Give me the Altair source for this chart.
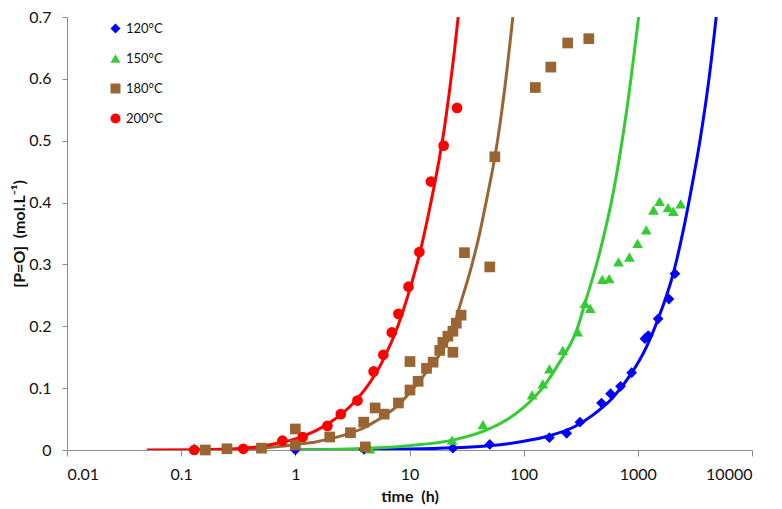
import altair as alt
import pandas as pd

series_names = ["120°C", "150°C", "180°C", "200°C"]
colors = ["#0000ff", "#33cc33", "#996633", "#ff0000"]
shapes = ["diamond", "triangle-up", "square", "circle"]

# measured points (time in h, [P=O] in mol/L)
t120 = [1.0, 4.0, 24, 50.5, 168, 238, 311, 480, 577, 705, 883, 1153, 1233, 1506, 1875, 2114]
y120 = [0.0, 0.001, 0.003, 0.009, 0.020, 0.027, 0.045, 0.076, 0.091, 0.103, 0.125, 0.180, 0.185, 0.212, 0.244, 0.285]

t150 = [0.13, 4.5, 23.6, 44, 118.6, 147, 168, 220, 297, 344, 383, 488, 561, 677, 844, 995, 1185, 1371, 1550, 1838, 2045, 2372]
y150 = [0.004, 0.002, 0.016, 0.041, 0.089, 0.107, 0.131, 0.161, 0.191, 0.237, 0.229, 0.276, 0.277, 0.304, 0.312, 0.334, 0.356, 0.388, 0.402, 0.392, 0.386, 0.398]

t180 = [0.163, 0.252, 0.505, 1.0, 1.0, 2.0, 3.04, 3.97, 4.1, 5.0, 6.0, 8.0, 10.1, 10.1, 11.9, 14.1, 16.1, 18.4, 19.6, 21.7, 24.0, 24.0, 25.7, 28.3, 30.3, 50.5, 55.9, 126.5, 173, 243, 372]
y180 = [0.000, 0.002, 0.003, 0.034, 0.008, 0.021, 0.028, 0.045, 0.005, 0.068, 0.058, 0.076, 0.097, 0.143, 0.111, 0.132, 0.142, 0.161, 0.174, 0.184, 0.192, 0.158, 0.205, 0.218, 0.319, 0.296, 0.474, 0.586, 0.619, 0.658, 0.665]

t200 = [0.13, 0.35, 0.77, 1.16, 1.91, 2.5, 3.5, 4.85, 5.9, 7.0, 8.0, 9.8, 12.2, 15.4, 19.9, 26.1]
y200 = [0.000, 0.002, 0.015, 0.021, 0.039, 0.058, 0.080, 0.127, 0.154, 0.190, 0.220, 0.264, 0.320, 0.434, 0.492, 0.553]

# model curves
ct120 = [0.9, 5, 10, 24, 50, 100, 168, 281, 400, 600, 873, 1200, 1486, 2075, 2500, 2930, 3500, 4200, 4860]
cy120 = [0.0, 0.001, 0.0015, 0.0035, 0.007, 0.014, 0.023, 0.038, 0.056, 0.084, 0.123, 0.168, 0.209, 0.290, 0.355, 0.420, 0.500, 0.600, 0.700]

ct150 = [1, 4.5, 10, 24, 44, 70, 100, 150, 200, 297, 344, 450, 625, 800, 1016]
cy150 = [0.0, 0.003, 0.007, 0.016, 0.030, 0.048, 0.069, 0.103, 0.138, 0.198, 0.237, 0.310, 0.427, 0.550, 0.700]

ct180 = [0.15, 0.3, 0.5, 0.75, 1, 1.5, 2, 3, 4, 5, 6, 8, 10, 13, 16, 20, 24, 28, 33.4, 40, 48, 56, 64, 72, 80.4]
cy180 = [0.0, 0.001, 0.003, 0.006, 0.009, 0.013, 0.018, 0.027, 0.036, 0.046, 0.055, 0.073, 0.092, 0.118, 0.139, 0.165, 0.195, 0.237, 0.284, 0.340, 0.410, 0.474, 0.545, 0.620, 0.700]

ct200 = [0.05, 0.15, 0.3, 0.5, 0.75, 1, 1.5, 2, 3, 4, 5, 6, 8, 10, 12.3, 15, 18, 20, 22.3, 24.5, 26.7]
cy200 = [0.0, 0.0005, 0.002, 0.006, 0.012, 0.018, 0.031, 0.044, 0.070, 0.096, 0.122, 0.149, 0.203, 0.258, 0.318, 0.390, 0.465, 0.515, 0.578, 0.638, 0.700]

x_ticks = [0.01, 0.1, 1, 10, 100, 1000, 10000]
y_ticks = [0, 0.1, 0.2, 0.3, 0.4, 0.5, 0.6, 0.7]

pts = []
for i, (ts, ys) in enumerate([(t120, y120), (t150, y150), (t180, y180), (t200, y200)]):
    for t, y in zip(ts, ys):
        pts.append({"t": t, "y": y, "series": series_names[i], "ord": i})
pts = pd.DataFrame(pts)

crv = []
for i, (ts, ys) in enumerate([(ct120, cy120), (ct150, cy150), (ct180, cy180), (ct200, cy200)]):
    for t, y in zip(ts, ys):
        crv.append({"t": t, "y": y, "curve": series_names[i]})
crv = pd.DataFrame(crv)

xscale = alt.Scale(type="log", domain=[0.01, 10000], nice=False)
yscale = alt.Scale(domain=[0, 0.7], nice=False)

xaxis = alt.Axis(values=x_ticks, format="~g", title="time\u00a0\u00a0(h)", grid=False,
                 tickSize=6, labelPadding=10, titlePadding=6)
yaxis = alt.Axis(values=y_ticks, format="~g", title="[P=O]\u00a0\u00a0(mol.L\u207b\u00b9)", grid=False,
                 tickSize=5, labelPadding=11, titleX=-40)

leg = alt.Legend(title=None, orient="none", legendX=42, legendY=5,
                 symbolSize=100, labelFontSize=13, labelFont="Lato",
                 labelColor="#111", rowPadding=16, padding=0,
                 symbolStrokeWidth=0, labelOffset=4)

lines = alt.Chart(crv).mark_line(strokeWidth=3, interpolate="monotone", clip=True).encode(
    x=alt.X("t:Q", scale=xscale, axis=xaxis),
    y=alt.Y("y:Q", scale=yscale, axis=yaxis),
    color=alt.Color("curve:N", scale=alt.Scale(domain=series_names, range=colors), legend=None),
    detail="curve:N",
)

points = alt.Chart(pts).mark_point(filled=True, opacity=1, size=115, strokeWidth=0).encode(
    x=alt.X("t:Q", scale=xscale),
    y=alt.Y("y:Q", scale=yscale),
    color=alt.Color("series:N", scale=alt.Scale(domain=series_names, range=colors), legend=leg),
    shape=alt.Shape("series:N", scale=alt.Scale(domain=series_names, range=shapes), legend=leg),
    order=alt.Order("ord:Q"),
)

chart = alt.layer(lines, points).resolve_scale(
    color="independent", shape="independent"
).properties(
    width=685, height=433,
    padding={"left": 59, "top": 9, "right": 22, "bottom": 58},
    autosize=alt.AutoSizeParams(type="none"),
).configure_view(stroke=None).configure_axis(
    domainColor="#8c8c8c", tickColor="#8c8c8c", labelFont="Lato", labelFontSize=16,
    labelColor="#111", titleFont="Lato", titleFontSize=16, titleFontWeight="bold",
    titleColor="#111",
)

chart.save("out.html", embed_options={"renderer": "svg", "actions": False})
